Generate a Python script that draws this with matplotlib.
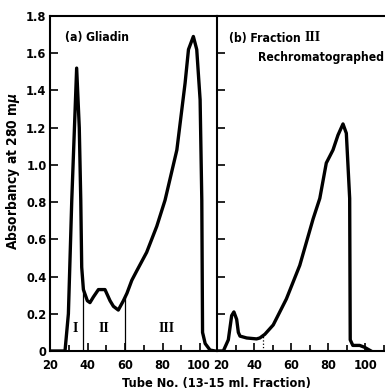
import matplotlib
matplotlib.use("Agg")
from matplotlib import pyplot as plt
from matplotlib import font_manager as fm
from matplotlib import transforms
from matplotlib.ticker import MultipleLocator

# ---- donnees ----
# (a) Gliadin
tube_a = [20, 28, 29.8, 31.6, 34.2, 35.6, 36.4, 36.9, 37.8, 39.9, 41.3, 43.1, 45.8,
          49.3, 52, 53.8, 56.4, 59.1, 61, 63.6, 66.2, 71.5, 76.9, 81.3, 87.6, 92,
          93.8, 96.4, 98.2, 100, 100.9, 101.3, 102.7, 105.3, 108]
abs_a = [0, 0, 0.2, 0.81, 1.52, 1.2, 0.81, 0.45, 0.33, 0.27, 0.26, 0.29, 0.33,
         0.33, 0.27, 0.24, 0.22, 0.27, 0.31, 0.38, 0.43, 0.53, 0.67, 0.81, 1.08, 1.44,
         1.62, 1.69, 1.62, 1.35, 0.81, 0.10, 0.04, 0.005, 0]

# (b) Fraction III rechromatographed
tube_b = [20, 23.4, 26.1, 27.9, 29.1, 30.6, 31.5, 32.4, 36, 41.3, 43.1, 45.8, 50.3,
          57.4, 64.6, 71.8, 75.4, 78.9, 82.5, 85.2, 87.9, 89.7, 91.5, 91.8, 93.2,
          96.9, 99.5, 103]
abs_b = [0, 0, 0.06, 0.19, 0.21, 0.17, 0.10, 0.08, 0.07, 0.065, 0.07, 0.09, 0.14,
         0.28, 0.46, 0.71, 0.82, 1.01, 1.08, 1.16, 1.22, 1.17, 0.82, 0.06, 0.03,
         0.03, 0.02, 0]

# separations des fractions I / II / III
coupes_a = [(37.8, 0.33), (60, 0.29)]
coupe_b = (44.9, 0.08)
fractions = ["I", "II", "III"]
pos_fractions = [33.3, 49, 82.2]

# police etroite si dispo, sinon Roboto
etroites = [f for f in fm.fontManager.ttflist
            if 'condensed' in str(f.stretch) or 'Narrow' in f.name or 'Condensed' in f.name]
if etroites:
    police, etirement, k = etroites[0].name, etroites[0].stretch, 1.15
else:
    police, etirement, k = 'Roboto', 'normal', 1.0

plt.rcParams['font.family'] = [police, 'DejaVu Sans']
plt.rcParams['font.weight'] = 'bold'
plt.rcParams['font.stretch'] = etirement

fig = plt.figure(figsize=(3.85, 3.92), dpi=100)
axa = fig.add_axes([50/385, 41/392, 167/385, 335/392])
axb = fig.add_axes([217/385, 41/392, 167/385, 335/392])

for ax in (axa, axb):
    ax.set_ylim(0, 1.8)
    ax.yaxis.set_major_locator(MultipleLocator(0.2))
    ax.xaxis.set_major_locator(MultipleLocator(20))
    ax.xaxis.set_minor_locator(MultipleLocator(10))
    ax.tick_params(direction='in', length=6, width=1.2, labelsize=8 * k)
    ax.tick_params(axis='x', pad=6)
    ax.tick_params(axis='y', pad=2.5)
    ax.tick_params(which='minor', direction='in', length=4, width=1.2)
    for s in ax.spines.values():
        s.set_linewidth(1.5)

axa.set_xlim(20, 109)
axb.set_xlim(20, 110)
axa.spines['right'].set_visible(False)
axb.spines['right'].set_visible(False)
axb.tick_params(labelleft=False)

axa.set_yticks([0, 0.2, 0.4, 0.6, 0.8, 1.0, 1.2, 1.4, 1.6, 1.8])
axa.set_yticklabels(["0", "0.2", "0.4", "0.6", "0.8", "1.0", "1.2", "1.4", "1.6", "1.8"])
axa.set_xticks([20, 40, 60, 80, 100])
axb.set_xticks([20, 40, 60, 80, 100])

# "100" et "20" se touchent au milieu : on les ecarte un peu
gauche = transforms.ScaledTranslation(-2/100, 0, fig.dpi_scale_trans)
droite = transforms.ScaledTranslation(4/100, 0, fig.dpi_scale_trans)
lab100 = axa.xaxis.get_major_ticks()[-1].label1
lab100.set_transform(lab100.get_transform() + gauche)
lab20 = axb.xaxis.get_major_ticks()[0].label1
lab20.set_transform(lab20.get_transform() + droite)

axa.plot(tube_a, abs_a, color='black', lw=2.4, solid_joinstyle='round')
axb.plot(tube_b, abs_b, color='black', lw=2.4, solid_joinstyle='round')

for x, y in coupes_a:
    axa.plot([x, x], [0, y], color='black', lw=0.9)
axb.plot([coupe_b[0]] * 2, [0, coupe_b[1]], color='black', lw=0.9, ls=':')

for f, x in zip(fractions, pos_fractions):
    axa.text(x, 0.12, f, ha='center', va='center', fontsize=10,
             family='Liberation Serif', fontweight='bold', fontstretch='normal')

taille = 7.6 * k
axa.text(0.09, 0.955, "(a) Gliadin", transform=axa.transAxes, fontsize=taille,
         ha='left', va='top')
tb = axb.text(0.07, 0.952, "(b) Fraction ", transform=axb.transAxes, fontsize=taille,
              ha='left', va='top')
fig.canvas.draw()
bb = tb.get_window_extent().transformed(axb.transAxes.inverted())
axb.text(bb.x1, 0.955, "III", transform=axb.transAxes, fontsize=10,
         ha='left', va='top', family='Liberation Serif', fontweight='bold',
         fontstretch='normal')
axb.text(0.245, 0.897, "Rechromatographed", transform=axb.transAxes, fontsize=taille,
         ha='left', va='top')

fig.text(216/385, 9/392, "Tube No. (13-15 ml. Fraction)", ha='center', va='center',
         fontsize=8 * k)
fig.text(13/385, 1 - 171/392, "Absorbancy at 280 m$\\mu$", rotation=90, ha='center',
         va='center', fontsize=8.6 * k)

fig.savefig("out.png", dpi=100)
